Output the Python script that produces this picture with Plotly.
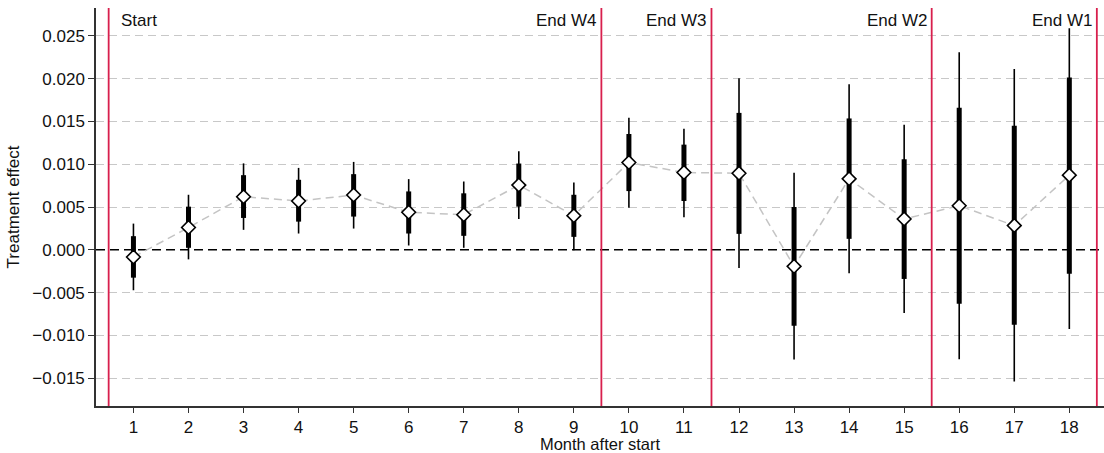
import plotly.graph_objects as go

months = list(range(1, 19))
estimate = [-0.00085, 0.00260, 0.00620, 0.00570, 0.00640, 0.00438, 0.00410, 0.00756, 0.00399,
            0.01020, 0.00903, 0.00895, -0.00194, 0.00829, 0.00360, 0.00515, 0.00283, 0.00872]
ci_inner_lo = [-0.00326, 0.00023, 0.00372, 0.00329, 0.00388, 0.00190, 0.00163, 0.00504, 0.00151,
               0.00686, 0.00570, 0.00186, -0.00888, 0.00128, -0.00341, -0.00632, -0.00876, -0.00279]
ci_inner_hi = [0.00159, 0.00504, 0.00872, 0.00818, 0.00884, 0.00682, 0.00660, 0.01008, 0.00643,
               0.01353, 0.01229, 0.01600, 0.00500, 0.01535, 0.01058, 0.01659, 0.01450, 0.02015]
ci_outer_lo = [-0.00473, -0.00112, 0.00233, 0.00190, 0.00248, 0.00050, 0.00023, 0.00360, -0.00005,
               0.00492, 0.00380, -0.00213, -0.01283, -0.00275, -0.00740, -0.01279, -0.01539, -0.00927]
ci_outer_hi = [0.00306, 0.00643, 0.01010, 0.00957, 0.01027, 0.00826, 0.00798, 0.01151, 0.00787,
               0.01543, 0.01415, 0.02004, 0.00899, 0.01934, 0.01461, 0.02310, 0.02112, 0.02590]

event_x = [0.55, 9.5, 11.5, 15.5, 18.5]
event_labels = ["Start", "End W4", "End W3", "End W2", "End W1"]

y_ticks = [-0.015, -0.010, -0.005, 0.000, 0.005, 0.010, 0.015, 0.020, 0.025]
y_ticktext = ["\u22120.015", "\u22120.010", "\u22120.005", "0.000", "0.005", "0.010", "0.015", "0.020", "0.025"]
non_zero_ticks = [t for t in y_ticks if t != 0]

x_range = [0.32, 18.63]
y_range = [-0.01826, 0.02826]

FONT = "Liberation Sans, Arial, Helvetica, sans-serif"
RED = "#d81f4d"

def segs(lo, hi):
    xs, ys = [], []
    for m, a, b in zip(months, lo, hi):
        xs += [m, m, None]
        ys += [a, b, None]
    return xs, ys

fig = go.Figure()

# zero reference line (under the data)
fig.add_trace(go.Scatter(x=x_range, y=[0, 0], mode="lines",
                         line=dict(color="black", width=1.5, dash="9px,5px"),
                         hoverinfo="skip", showlegend=False))
# connecting line
fig.add_trace(go.Scatter(x=months, y=estimate, mode="lines",
                         line=dict(color="#c4c4c4", width=1.5, dash="8px,5px"),
                         hoverinfo="skip", showlegend=False))
ox, oy = segs(ci_outer_lo, ci_outer_hi)
fig.add_trace(go.Scatter(x=ox, y=oy, mode="lines", line=dict(color="black", width=1.6),
                         hoverinfo="skip", showlegend=False))
ix, iy = segs(ci_inner_lo, ci_inner_hi)
fig.add_trace(go.Scatter(x=ix, y=iy, mode="lines", line=dict(color="black", width=5),
                         hoverinfo="skip", showlegend=False))
fig.add_trace(go.Scatter(x=months, y=estimate, mode="markers",
                         marker=dict(symbol="diamond", size=10.5, color="white",
                                     line=dict(color="black", width=1.6)),
                         showlegend=False))

shapes = []
annotations = []
for i, (ex, lab) in enumerate(zip(event_x, event_labels)):
    shapes.append(dict(type="line", xref="x", x0=ex, x1=ex, yref="paper", y0=0, y1=1,
                       line=dict(color=RED, width=1.8), layer="above"))
    if i == 0:
        annotations.append(dict(x=ex, y=1, xref="x", yref="paper", text=lab, showarrow=False,
                                xanchor="left", yanchor="top", xshift=10, yshift=-1,
                                font=dict(family=FONT, size=17, color="#111")))
    else:
        annotations.append(dict(x=ex, y=1, xref="x", yref="paper", text=lab, showarrow=False,
                                xanchor="right", yanchor="top", xshift=-3, yshift=-1,
                                font=dict(family=FONT, size=17, color="#111")))

fig.update_layout(
    width=1104, height=453,
    margin=dict(l=96, r=0, t=8, b=45),
    plot_bgcolor="white", paper_bgcolor="white",
    font=dict(family=FONT, size=17, color="#111"),
    shapes=shapes, annotations=annotations,
    xaxis=dict(range=x_range, tickmode="array", tickvals=months,
               ticktext=[str(m) for m in months], showgrid=False, zeroline=False,
               showline=True, linecolor="#333", linewidth=1.5,
               ticks="outside", ticklen=5, tickwidth=1.2, tickcolor="#333",
               tickfont=dict(size=17),
               title=dict(text="Month after start", standoff=4, font=dict(size=16.5))),
    yaxis=dict(range=y_range, tickmode="array", tickvals=y_ticks,
               ticktext=y_ticktext, showgrid=False, zeroline=False,
               showline=True, linecolor="#333", linewidth=1.5,
               ticks="outside", ticklen=6, tickwidth=1.2, tickcolor="#333",
               tickfont=dict(size=17),
               title=dict(text="Treatment effect", standoff=8, font=dict(size=17))),
    yaxis2=dict(range=y_range, overlaying="y", tickmode="array", tickvals=non_zero_ticks,
                showticklabels=False, showgrid=True, gridcolor="#c8c8c8", gridwidth=1.2,
                griddash="8px,5px", zeroline=False, showline=False, ticks=""),
)
# invisible trace to activate the grid axis
fig.add_trace(go.Scatter(x=[None], y=[None], yaxis="y2", showlegend=False, hoverinfo="skip"))

fig.write_html("out.html")
